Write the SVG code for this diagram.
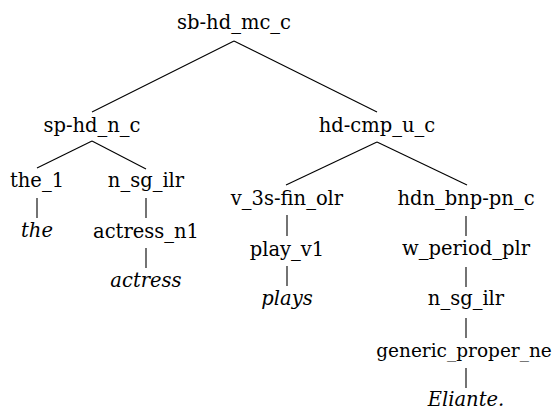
<svg xmlns="http://www.w3.org/2000/svg" width="555" height="410" viewBox="0 0 555 410">
<style>
text{font-size:19.5px;fill:#000;text-anchor:middle;font-family:'DejaVu Serif',serif}
.w{font-style:italic}
line{stroke:#000;stroke-width:1.1}
</style>
<rect width="555" height="410" fill="#fff"/>
<g id="connectors">
<line x1="234" y1="41" x2="92" y2="112"/>
<line x1="234" y1="41" x2="377" y2="112"/>
<line x1="92" y1="141" x2="37" y2="168"/>
<line x1="92" y1="141" x2="146" y2="169"/>
<line x1="377" y1="142" x2="286" y2="185"/>
<line x1="377" y1="142" x2="467" y2="185"/>
<line x1="37" y1="198" x2="37" y2="218"/>
<line x1="146" y1="198" x2="146" y2="218"/>
<line x1="146" y1="248" x2="146" y2="268"/>
<line x1="287" y1="215" x2="287" y2="236"/>
<line x1="287" y1="266" x2="287" y2="286"/>
<line x1="466" y1="216" x2="466" y2="236"/>
<line x1="466" y1="267" x2="466" y2="287"/>
<line x1="466" y1="318" x2="466" y2="338"/>
<line x1="466" y1="368" x2="466" y2="388"/>
</g>
<g id="n-root"><text x="234" y="29">sb-hd_mc_c</text></g>
<g id="n-sphd"><text x="92" y="132">sp-hd_n_c</text></g>
<g id="n-hdcmp"><text x="377" y="132">hd-cmp_u_c</text></g>
<g id="n-the1"><text x="37" y="187">the_1</text></g>
<g id="n-the"><text class="w" x="37" y="237">the</text></g>
<g id="n-nsg1"><text x="146" y="187">n_sg_ilr</text></g>
<g id="n-actressn1"><text x="146" y="238">actress_n1</text></g>
<g id="n-actress"><text class="w" x="146" y="287">actress</text></g>
<g id="n-v3s"><text x="287" y="205">v_3s-fin_olr</text></g>
<g id="n-playv1"><text x="287" y="256">play_v1</text></g>
<g id="n-plays"><text class="w" x="287" y="305">plays</text></g>
<g id="n-hdnbnp"><text x="466" y="205">hdn_bnp-pn_c</text></g>
<g id="n-wperiod"><text x="466" y="255">w_period_plr</text></g>
<g id="n-nsg2"><text x="466" y="305">n_sg_ilr</text></g>
<g id="n-generic"><text x="464" y="357" style="font-size:18.5px">generic_proper_ne</text></g>
<g id="n-eliante"><text class="w" x="466" y="406">Eliante.</text></g>
</svg>
